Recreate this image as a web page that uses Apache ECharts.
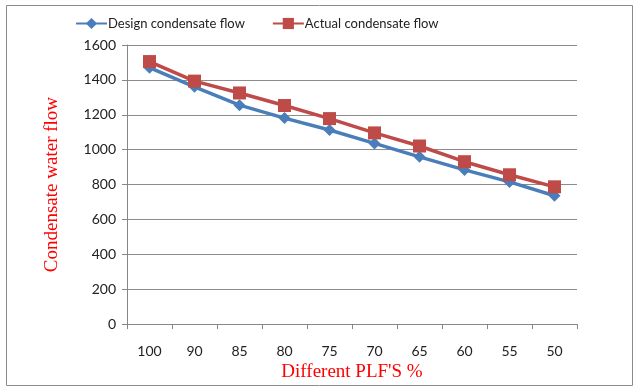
<!DOCTYPE html>
<html><head><meta charset="utf-8">
<script src="https://cdn.jsdelivr.net/npm/echarts@6/dist/echarts.min.js"></script>
<style>html,body{margin:0;padding:0;background:#fff}#c{width:638px;height:387px}</style>
</head><body><div id="c"></div>
<script>
var categories = ['100','90','85','80','75','70','65','60','55','50'];
var designFlow = [1470,1360,1255,1181,1113,1036,959,884,815,736];
var actualFlow = [1505,1393,1325,1253,1178,1096,1021,931,856,787];
var seriesNames = ['Design condensate flow','Actual condensate flow'];

var chart = echarts.init(document.getElementById('c'));
var lblFont = {fontFamily:'Lato, "Open Sans", sans-serif', fontSize:14, color:'#222'};
chart.setOption({
  animation:false,
  graphic:[{type:'rect', shape:{x:6.5,y:5.5,width:626,height:380}, style:{fill:'none', stroke:'#8c8c8c', lineWidth:1}, z:-1}],
  legend:{
    top:12, left:70, itemGap:27, itemWidth:31, itemHeight:14,
    textStyle:{fontFamily:'Lato, "Open Sans", sans-serif', fontSize:13, color:'#222', padding:[0,0,0,-4]},
    data:seriesNames
  },
  grid:{left:127, right:61, top:45, bottom:57},
  xAxis:{
    type:'category', data:categories, boundaryGap:true,
    axisLine:{lineStyle:{color:'#868686', width:1}},
    axisTick:{show:true, length:5, alignWithLabel:false, lineStyle:{color:'#868686'}},
    axisLabel:Object.assign({margin:20}, lblFont),
    name:"Different PLF'S %", nameLocation:'middle', nameGap:38,
    nameTextStyle:{fontFamily:'"Liberation Serif", serif', fontSize:19, color:'#ff0000'}
  },
  yAxis:{
    type:'value', min:0, max:1600, interval:200,
    axisLine:{show:true, lineStyle:{color:'#868686'}},
    axisTick:{show:true, length:5, lineStyle:{color:'#868686'}},
    axisLabel:Object.assign({margin:11, formatter:function(v){return String(v);}}, lblFont),
    splitLine:{lineStyle:{color:'#8c8c8c', width:1}},
    name:'Condensate water flow', nameLocation:'middle', nameGap:65,
    nameTextStyle:{fontFamily:'"Liberation Serif", serif', fontSize:19, color:'#ff0000'}
  },
  series:[
    {name:seriesNames[0], type:'line', data:designFlow, symbol:'diamond', symbolSize:12,
     lineStyle:{color:'#4a7ebb', width:3.5}, itemStyle:{color:'#4a7ebb'}},
    {name:seriesNames[1], type:'line', data:actualFlow, symbol:'rect', symbolSize:13,
     lineStyle:{color:'#be4b48', width:3.5}, itemStyle:{color:'#be4b48'}}
  ]
});
</script></body></html>
